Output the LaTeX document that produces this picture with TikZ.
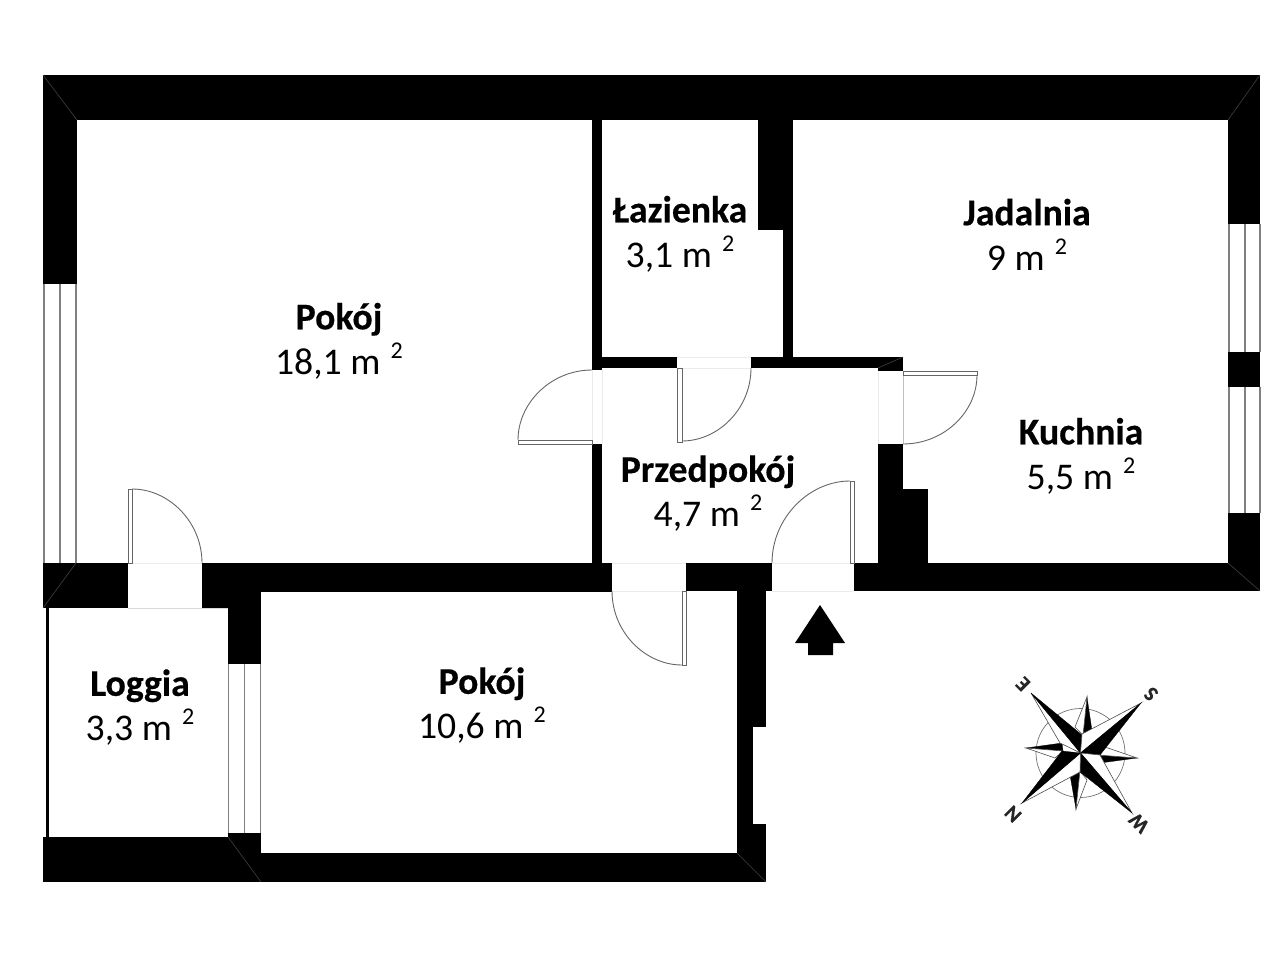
\documentclass[tikz,border=0pt]{standalone}
\usepackage{fontspec}
\setmainfont{Carlito}[BoldFeatures={FakeBold=0.4}]
\tikzset{
  wall/.style={fill=black,draw=none},
  winline/.style={draw=black!50,line width=1.1pt},
  doorline/.style={draw=black!60,line width=0.9pt},
  sill/.style={draw=black!8,line width=0.7pt},
  miter/.style={draw=black!75,line width=0.6pt},
  room/.style={align=center,inner sep=0pt,font=\fontsize{37.7}{45}\selectfont},
  compassletter/.style={inner sep=0pt,font=\fontsize{21}{21}\selectfont\bfseries,text=black!85,rotate=135},
  raywhite/.style={fill=white,draw=black!70,line width=0.6pt},
  rayblack/.style={fill=black,draw=black,line width=0.3pt}
}
\newcommand{\sqm}{\,\raisebox{0.42em}{\fontsize{24}{24}\selectfont\,2}}
\begin{document}
\begin{tikzpicture}[x=1pt,y=-1pt]
\useasboundingbox (0,0) rectangle (1280,960);
\fill[white] (0,0) rectangle (1280,960);
% thresholds
\draw[sill] (592,370) -- (592,444) (602,370) -- (602,444);
\draw[sill] (677,357) -- (751,357) (677,368) -- (751,368);
\draw[sill] (878,371) -- (878,444);
\draw[draw=black!25,line width=0.6pt] (903,375) -- (903,444);
\draw[sill] (612,563) -- (686,563) (612,591) -- (686,591);
\draw[sill] (772,563) -- (854,563) (772,591) -- (854,591);
\draw[sill] (128,563) -- (202,563);
\draw[draw=black!15,line width=0.7pt] (128,608) -- (228,608);
% windows
\foreach \wx in {44,60,76}{\draw[winline] (\wx,284) -- (\wx,563);}
\foreach \wx in {1229,1245,1260}{\draw[winline] (\wx,224) -- (\wx,352) (\wx,387) -- (\wx,513);}
\foreach \wx in {228.5,244.5,260.5}{\draw[winline] (\wx,664) -- (\wx,835);}
% walls
\fill[wall] (43,75) rectangle (1260,120);
\fill[wall] (43,75) rectangle (77,284);
\fill[wall] (1228,120) rectangle (1260,224);
\fill[wall] (1228,352) rectangle (1260,387);
\fill[wall] (1228,513) rectangle (1260,591);
\fill[wall] (854,563) rectangle (1260,591);
\fill[wall] (878,444) rectangle (903,563);
\fill[wall] (903,489) rectangle (928,563);
\fill[wall] (878,357) rectangle (903,371);
\fill[wall] (751,357) rectangle (903,368);
\fill[wall] (592,357) rectangle (677,368);
\fill[wall] (592,120) rectangle (602,370);
\fill[wall] (592,444) rectangle (602,563);
\fill[wall] (758,120) rectangle (793,230);
\fill[wall] (783,230) rectangle (793,357);
\fill[wall] (202,563) rectangle (612,592);
\fill[wall] (686,563) rectangle (772,591);
\fill[wall] (737,591) rectangle (766,727);
\fill[wall] (737,727) rectangle (753,824);
\fill[wall] (737,824) rectangle (766,882);
\fill[wall] (43,563) rectangle (128,608);
\fill[wall] (202,563) rectangle (228,608);
\fill[wall] (228,563) rectangle (261,664);
\fill[wall] (43,837) rectangle (261,882);
\fill[wall] (228,833) rectangle (261,853);
\fill[wall] (261,853) rectangle (766,882);
\fill[wall] (46,608) rectangle (48.5,838);
% mitres
\draw[miter] (43,75) -- (77,120);
\draw[miter] (1260,75) -- (1228,120);
\draw[miter] (1260,591) -- (1228,563);
\draw[miter] (43,608) -- (76,563);
\draw[miter] (228,837) -- (261,882);
\draw[miter] (737,853) -- (766,882);
\draw[miter] (878,368) -- (903,357);
% doors
\draw[doorline] (518,440) rectangle (592,444);
\draw[doorline] (592,370) .. controls (551,370) and (518,403) .. (518,440);
\draw[doorline] (677,368) rectangle (682,442);
\draw[doorline] (682,441) .. controls (718,441) and (751,409) .. (751,368);
\draw[doorline] (682,591) rectangle (686,665);
\draw[doorline] (612,591) .. controls (612,632) and (645,665) .. (682,665);
\draw[doorline] (850,481) rectangle (854,563);
\draw[doorline] (772,563) .. controls (772,518) and (809,481) .. (850,481);
\draw[doorline] (903,371) rectangle (977,375);
\draw[doorline] (977,375) .. controls (977,412) and (944,444) .. (903,444);
\draw[doorline] (128,489) rectangle (132,563);
\draw[doorline] (132,489) .. controls (169,489) and (202,522) .. (202,563);
% entrance arrow
\fill[black] (820,605) -- (845,643) -- (833,643) -- (833,655) -- (808,655) -- (808,643) -- (795,643) -- cycle;
% compass
\coordinate (cc) at (1080.5,753);
\draw[draw=black!55,line width=0.7pt] (cc) circle (44.5);
% short rays
\fill[rayblack] (1087,697) -- (1092,731) -- (1083,735) -- cycle;
\draw[raywhite] (1087,697) -- (1075,727) -- (1083,735) -- cycle;
\fill[rayblack] (1137,758) -- (1100,763) -- (1098,755) -- cycle;
\draw[raywhite] (1137,758) -- (1105,747) -- (1098,755) -- cycle;
\fill[rayblack] (1076,809) -- (1070,775) -- (1080,771) -- cycle;
\draw[raywhite] (1076,809) -- (1087,780) -- (1080,771) -- cycle;
\fill[rayblack] (1026,748) -- (1062,743) -- (1063,751) -- cycle;
\draw[raywhite] (1026,748) -- (1055,758) -- (1063,751) -- cycle;
% long rays
\draw[raywhite] (1031,693) -- (1060,743) -- (cc) -- cycle;
\fill[rayblack] (1031,693) -- (1082,735) -- (cc) -- cycle;
\draw[raywhite] (1141,703) -- (1082,734) -- (cc) -- cycle;
\fill[rayblack] (1141,703) -- (1100,755) -- (cc) -- cycle;
\draw[raywhite] (1132,813) -- (1100,755) -- (cc) -- cycle;
\fill[rayblack] (1132,813) -- (1080,772) -- (cc) -- cycle;
\draw[raywhite] (1022,803) -- (1080,772) -- (cc) -- cycle;
\fill[rayblack] (1022,803) -- (1062,751) -- (cc) -- cycle;
\node[compassletter] (lE) at (1023,684) {E};
\node[compassletter] (lS) at (1151,694) {S};
\node[compassletter] (lW) at (1139,823) {W};
\node[compassletter] (lN) at (1013,814) {N};
% rooms
\node[room] (pokojA) at (339,341) {\textbf{Pokój}\\18,1 m\sqm};
\node[room] (lazienka) at (680,234) {\textbf{Łazienka}\\3,1 m\sqm};
\node[room] (jadalnia) at (1027,234.5) {\textbf{Jadalnia}\\9 m\sqm};
\node[room] (kuchnia) at (1081,456) {\textbf{Kuchnia}\\5,5 m\sqm};
\node[room] (przedpokoj) at (708,493.5) {\textbf{Przedpokój}\\4,7 m\sqm};
\node[room] (loggia) at (140,707.5) {\textbf{Loggia}\\3,3 m\sqm};
\node[room] (pokojB) at (482,705.5) {\textbf{Pokój}\\10,6 m\sqm};
\end{tikzpicture}
\end{document}
